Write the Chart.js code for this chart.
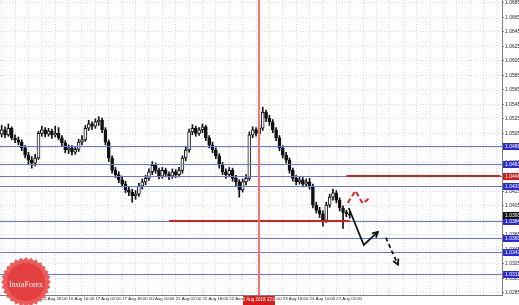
<!DOCTYPE html>
<html>
<head>
<meta charset="utf-8">
<script src="https://cdn.jsdelivr.net/npm/chart.js@4"></script>
<style>
html,body{margin:0;padding:0;background:#fff;}
#wrap{width:519px;height:305px;}
</style>
</head>
<body>
<div id="wrap"><canvas id="chart" width="519" height="305"></canvas></div>
<script>
/* DATA */

const dateTicks = [
    '15 Aug 02:00','15 Aug 18:00','16 Aug 10:00','17 Aug 02:00','17 Aug 18:00',
    '20 Aug 10:00','21 Aug 02:00','21 Aug 18:00','22 Aug 10:00','23 Aug 02:00',
    '23 Aug 18:00','24 Aug 10:00','27 Aug 02:00'
];

const priceTicks = [
    1.0685,1.0665,1.0645,1.0625,1.0605,1.0585,1.0565,1.0545,1.0525,1.0505,1.0485,
    1.0465,1.0445,1.0425,1.0405,1.0385,1.0365,1.0345,1.0325,1.0305,1.0285
];

const opens = [
    1.0504,1.0510,1.0503,1.0512,1.0499,1.0496,1.0493,1.0485,1.0475,1.0468,
    1.0464,1.0471,1.0505,1.0510,1.0504,1.0508,1.0503,1.0505,1.0499,1.0492,
    1.0482,1.0485,1.0479,1.0483,1.0493,1.0496,1.0512,1.0518,1.0515,1.0521,
    1.0523,1.0510,1.0493,1.0471,1.0454,1.0448,1.0441,1.0435,1.0427,1.0424,
    1.0419,1.0421,1.0432,1.0438,1.0443,1.0452,1.0461,1.0454,1.0446,1.0454,
    1.0449,1.0446,1.0452,1.0448,1.0454,1.0471,1.0482,1.0507,1.0512,1.0505,
    1.0510,1.0514,1.0499,1.0489,1.0482,1.0474,1.0461,1.0452,1.0448,1.0454,
    1.0443,1.0438,1.0427,1.0438,1.0443,1.0503,1.0510,1.0505,1.0512,1.0534,
    1.0526,1.0521,1.0510,1.0499,1.0485,1.0475,1.0468,1.0454,1.0443,1.0438,
    1.0441,1.0435,1.0438,1.0432,1.0406,1.0399,1.0394,1.0385,1.0406,1.0417,
    1.0423,1.0413,1.0402,1.0396,1.0394
];

const closes = [
    1.0510,1.0503,1.0512,1.0499,1.0496,1.0493,1.0485,1.0475,1.0468,1.0464,
    1.0471,1.0505,1.0510,1.0504,1.0508,1.0503,1.0505,1.0499,1.0492,1.0482,
    1.0485,1.0479,1.0483,1.0493,1.0496,1.0512,1.0518,1.0515,1.0521,1.0523,
    1.0510,1.0493,1.0471,1.0454,1.0448,1.0441,1.0435,1.0427,1.0424,1.0419,
    1.0421,1.0432,1.0438,1.0443,1.0452,1.0461,1.0454,1.0446,1.0454,1.0449,
    1.0446,1.0452,1.0448,1.0454,1.0471,1.0482,1.0507,1.0512,1.0505,1.0510,
    1.0514,1.0499,1.0489,1.0482,1.0474,1.0461,1.0452,1.0448,1.0454,1.0443,
    1.0438,1.0427,1.0438,1.0443,1.0503,1.0510,1.0505,1.0512,1.0534,1.0526,
    1.0521,1.0510,1.0499,1.0485,1.0475,1.0468,1.0454,1.0443,1.0438,1.0441,
    1.0435,1.0438,1.0432,1.0406,1.0399,1.0394,1.0385,1.0406,1.0417,1.0423,
    1.0413,1.0402,1.0396,1.0394,1.0392
];

const highs = [
    1.0516,1.0514,1.0518,1.0514,1.0503,1.0500,1.0496,1.0488,1.0479,1.0473,
    1.0476,1.0508,1.0515,1.0513,1.0512,1.0511,1.0515,1.0513,1.0502,1.0495,
    1.0489,1.0488,1.0487,1.0497,1.0502,1.0516,1.0523,1.0521,1.0525,1.0528,
    1.0526,1.0513,1.0496,1.0474,1.0458,1.0452,1.0446,1.0439,1.0432,1.0428,
    1.0426,1.0436,1.0442,1.0447,1.0456,1.0466,1.0464,1.0457,1.0458,1.0457,
    1.0452,1.0456,1.0455,1.0458,1.0474,1.0486,1.0511,1.0517,1.0515,1.0513,
    1.0518,1.0516,1.0502,1.0493,1.0485,1.0477,1.0465,1.0456,1.0458,1.0457,
    1.0447,1.0441,1.0442,1.0448,1.0507,1.0514,1.0513,1.0516,1.0541,1.0537,
    1.0530,1.0524,1.0513,1.0502,1.0488,1.0479,1.0471,1.0457,1.0447,1.0445,
    1.0444,1.0442,1.0443,1.0435,1.0410,1.0403,1.0398,1.0410,1.0421,1.0428,
    1.0426,1.0416,1.0405,1.0399,1.0397
];

const lows = [
    1.0500,1.0499,1.0501,1.0496,1.0492,1.0489,1.0481,1.0471,1.0463,1.0457,
    1.0460,1.0469,1.0501,1.0500,1.0501,1.0498,1.0500,1.0496,1.0488,1.0478,
    1.0477,1.0475,1.0476,1.0480,1.0489,1.0494,1.0509,1.0510,1.0512,1.0516,
    1.0506,1.0489,1.0466,1.0450,1.0444,1.0437,1.0431,1.0423,1.0419,1.0410,
    1.0414,1.0418,1.0428,1.0434,1.0440,1.0448,1.0450,1.0442,1.0443,1.0445,
    1.0441,1.0443,1.0444,1.0445,1.0450,1.0467,1.0479,1.0503,1.0501,1.0502,
    1.0506,1.0495,1.0485,1.0478,1.0470,1.0457,1.0448,1.0443,1.0445,1.0439,
    1.0433,1.0417,1.0424,1.0434,1.0440,1.0499,1.0501,1.0502,1.0509,1.0521,
    1.0516,1.0506,1.0495,1.0481,1.0471,1.0464,1.0450,1.0439,1.0434,1.0435,
    1.0431,1.0432,1.0428,1.0402,1.0395,1.0389,1.0377,1.0382,1.0403,1.0413,
    1.0409,1.0398,1.0374,1.0390,1.0388
];

// horizontal levels
const blueLevels = [1.0488,1.0463,1.0446,1.0433,1.0384,1.0360,1.0342,1.0311];
const resistance = 1.0446;
const support = 1.0384;
const lastPrice = 1.0393;

// vertical marker
const markerBar = 77;
const markerTime = '22 Aug 2018 22:00';

// forecast drawings: [bar, price]
const arrowSolid = [[103.7,1.0402],[108.2,1.0351],[112.4,1.0369]];
const arrowDashed = [[114.8,1.0361],[118.4,1.0324]];
const arrowRed = [[103.4,1.0409],[105.7,1.0426],[107.9,1.0408],[109.7,1.0415]];

/* CHART */

const totalBars = 150;
const slotLabels = new Array(totalBars).fill('');
dateTicks.forEach((t,k)=>{ slotLabels[4+8*k] = t; });

const wicks = lows.map((l,i)=>[l, highs[i]]);
const bodies = opens.map((o,i)=>[o, closes[i]]);

const gridColor = '#dadada';

function arrowHead(ctx, a, b, len){
    const ang = Math.atan2(b.y-a.y, b.x-a.x);
    ctx.setLineDash([]);
    ctx.beginPath();
    ctx.moveTo(b.x - len*Math.cos(ang-0.5), b.y - len*Math.sin(ang-0.5));
    ctx.lineTo(b.x, b.y);
    ctx.lineTo(b.x - len*Math.cos(ang+0.5), b.y - len*Math.sin(ang+0.5));
    ctx.stroke();
}

function drawPath(chart, pts, color, width, dash, head){
    const {ctx, scales:{x, y}} = chart;
    const p = pts.map(q=>({x:x.getPixelForValue(q[0]), y:y.getPixelForValue(q[1])}));
    ctx.save();
    ctx.strokeStyle = color;
    ctx.lineWidth = width;
    ctx.setLineDash(dash);
    ctx.beginPath();
    p.forEach((q,i)=>{ if(i===0) ctx.moveTo(q.x,q.y); else ctx.lineTo(q.x,q.y); });
    ctx.stroke();
    if(head) arrowHead(ctx, p[p.length-2], p[p.length-1], 6);
    ctx.restore();
}

function priceBox(chart, v, fill){
    const {ctx, chartArea, scales:{y}} = chart;
    const py = Math.round(y.getPixelForValue(v));
    ctx.fillStyle = fill;
    ctx.fillRect(chartArea.right+1, py-3, 519-chartArea.right-1, 7);
    ctx.fillStyle = '#fff';
    ctx.font = '5px "Liberation Sans"';
    ctx.textAlign = 'left';
    ctx.textBaseline = 'middle';
    ctx.fillText(v.toFixed(4), chartArea.right+3, py+0.5);
}

const overlay = {
    id:'overlay',
    beforeDraw(chart){
        const ctx = chart.ctx;
        ctx.save();
        ctx.fillStyle = '#fff';
        ctx.fillRect(0,0,chart.width,chart.height);
        ctx.restore();
    },
    afterDatasetsDraw(chart){
        const {ctx, chartArea, scales:{x, y}} = chart;
        ctx.save();
        ctx.setLineDash([]);
        // blue levels
        ctx.strokeStyle = '#6f6ff4';
        ctx.lineWidth = 1;
        blueLevels.forEach(v=>{
            const py = Math.round(y.getPixelForValue(v)) + 0.5;
            ctx.beginPath(); ctx.moveTo(chartArea.left, py); ctx.lineTo(chartArea.right, py); ctx.stroke();
        });
        // red levels
        ctx.strokeStyle = '#d42020';
        ctx.lineWidth = 2;
        let py = Math.round(y.getPixelForValue(resistance));
        ctx.beginPath(); ctx.moveTo(x.getPixelForValue(103), py); ctx.lineTo(x.getPixelForValue(149), py); ctx.stroke();
        py = Math.round(y.getPixelForValue(support));
        ctx.beginPath(); ctx.moveTo(x.getPixelForValue(50), py); ctx.lineTo(x.getPixelForValue(104), py); ctx.stroke();
        ctx.restore();

        drawPath(chart, arrowRed, '#e02424', 2, [5,3], false);
        drawPath(chart, arrowSolid, '#111', 1.8, [], true);
        drawPath(chart, arrowDashed, '#111', 1.8, [4,3], true);
    },
    afterDraw(chart){
        const {ctx, chartArea, scales:{x}} = chart;
        ctx.save();
        // vertical marker
        const mx = Math.round(x.getPixelForValue(markerBar));
        ctx.fillStyle = '#f47474';
        ctx.fillRect(mx-1, chartArea.top, 2, chartArea.bottom - chartArea.top);

        blueLevels.forEach(v=>priceBox(chart, v, '#2b2bd6'));
        priceBox(chart, resistance, '#d01c1c');
        priceBox(chart, lastPrice, '#111');

        // time marker box
        ctx.fillStyle = '#d81c1c';
        ctx.fillRect(mx-16, chartArea.bottom+1, 32, 9);
        ctx.fillStyle = '#fff';
        ctx.font = '4.5px "Liberation Sans"';
        ctx.textAlign = 'center';
        ctx.textBaseline = 'middle';
        ctx.fillText(markerTime, mx, chartArea.bottom+5);

        // InstaForex badge
        const cx = 26, cy = 282, n = 28;
        ctx.beginPath();
        for(let i=0;i<=n*2;i++){
            const r = i%2===0 ? 25 : 22.5;
            const a = Math.PI*i/n;
            const px = cx + r*Math.cos(a), qy = cy + r*Math.sin(a);
            if(i===0) ctx.moveTo(px,qy); else ctx.lineTo(px,qy);
        }
        ctx.closePath();
        ctx.fillStyle = 'rgba(236,78,78,0.92)';
        ctx.fill();
        ctx.beginPath();
        ctx.arc(cx, cy, 19, 0, Math.PI*2);
        ctx.fillStyle = 'rgba(226,60,60,0.9)';
        ctx.fill();
        ctx.fillStyle = '#fff';
        ctx.font = '8px "Liberation Serif"';
        ctx.textAlign = 'center';
        ctx.textBaseline = 'middle';
        ctx.fillText('InstaForex', cx, cy+3);
        ctx.restore();
    }
};

new Chart(document.getElementById('chart'), {
    type:'bar',
    data:{
        labels:slotLabels,
        datasets:[
            {
                data:wicks,
                barThickness:1,
                backgroundColor:'#111',
                grouped:false,
                order:2
            },
            {
                data:bodies,
                barThickness:3,
                backgroundColor:closes.map((c,i)=> c>=opens[i] ? '#fff' : '#111'),
                borderColor:'#111',
                borderWidth:1,
                borderSkipped:false,
                grouped:false,
                order:1
            }
        ]
    },
    options:{
        responsive:false,
        animation:false,
        devicePixelRatio:1,
        layout:{padding:0},
        plugins:{legend:{display:false}, tooltip:{enabled:false}},
        scales:{
            x:{
                offset:true,
                afterFit:s=>{ s.height = 10; s.paddingLeft = 0; s.paddingRight = 0; },
                ticks:{
                    autoSkip:false, maxRotation:0, minRotation:0, align:'start',
                    padding:1, font:{family:'Liberation Sans', size:4.3}, color:'#222',
                    callback:(v,i)=>slotLabels[i]
                },
                grid:{
                    offset:false, drawTicks:false, lineWidth:1,
                    color:c=> c.index % 4 === 0 ? gridColor : 'rgba(0,0,0,0)'
                },
                border:{display:true, color:'#808080', dash:[1,2]}
            },
            y:{
                position:'right',
                min:1.0282,
                max:1.0689,
                afterBuildTicks:s=>{ s.ticks = priceTicks.map(v=>({value:v})); },
                afterFit:s=>{ s.width = 17; s.paddingTop = 0; s.paddingBottom = 0; },
                ticks:{font:{family:'Liberation Sans', size:5}, color:'#222', padding:1, callback:v=>v.toFixed(4)},
                grid:{color:gridColor, lineWidth:1, tickLength:2, tickColor:'#808080'},
                border:{display:true, color:'#808080', dash:[1,2]}
            }
        }
    },
    plugins:[overlay]
});
</script>
</body>
</html>
